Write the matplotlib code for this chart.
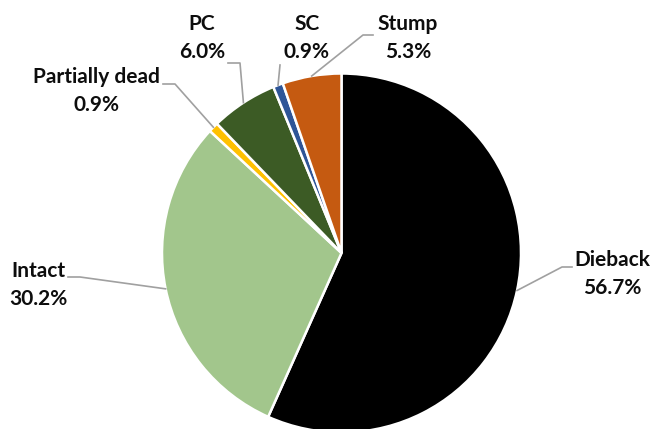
import matplotlib.pyplot as plt
import numpy as np

# Tree condition shares (%)
labels = ["Dieback", "Intact", "Partially dead", "PC", "SC", "Stump"]
shares = [56.7, 30.2, 0.9, 6.0, 0.9, 5.3]
colors = ["#000000", "#A2C68C", "#FFC000", "#3C5B25", "#2E5597", "#C55A11"]

# label block centres and leader elbows, in figure pixels (x from left, y from top)
label_pos = [(612, 274), (38, 285), (96, 91), (202, 38), (307, 38), (408, 38)]
elbows = [[(562, 267), (572, 267)],
          [(80, 277), (68, 277)],
          [(175, 84), (163, 84)],
          [(240, 63), (228, 63)],
          [(280, 65)],
          [(363, 35), (373, 35)]]

W, H = 653, 429
CX, CY, R = 341.5, 253, 179.5


def to_data(p):
    return (p[0] - CX) / R, (CY - p[1]) / R


fig = plt.figure(figsize=(W / 100, H / 100), dpi=100)
ax = fig.add_axes([(CX - R) / W, (H - CY - R) / H, 2 * R / W, 2 * R / H])

wedges, _ = ax.pie(shares, colors=colors, startangle=90, counterclock=False,
                   wedgeprops=dict(edgecolor="white", linewidth=1.8))
ax.set_xlim(-1, 1)
ax.set_ylim(-1, 1)
ax.set_aspect("equal")
ax.axis("off")

for w, name, val, pos, elb in zip(wedges, labels, shares, label_pos, elbows):
    mid = np.deg2rad((w.theta1 + w.theta2) / 2)
    pts = [(np.cos(mid), np.sin(mid))] + [to_data(p) for p in elb]
    xs, ys = zip(*pts)
    ax.plot(xs, ys, color="#A0A0A0", lw=1.2, clip_on=False, zorder=1)
    tx, ty = to_data(pos)
    ax.text(tx, ty, f"{name}\n{val:.1f}%", ha="center", va="center",
            fontsize=15, fontweight="bold", family="Lato", color="#0d0d0d",
            linespacing=1.55)

fig.savefig("out.png", dpi=100)
